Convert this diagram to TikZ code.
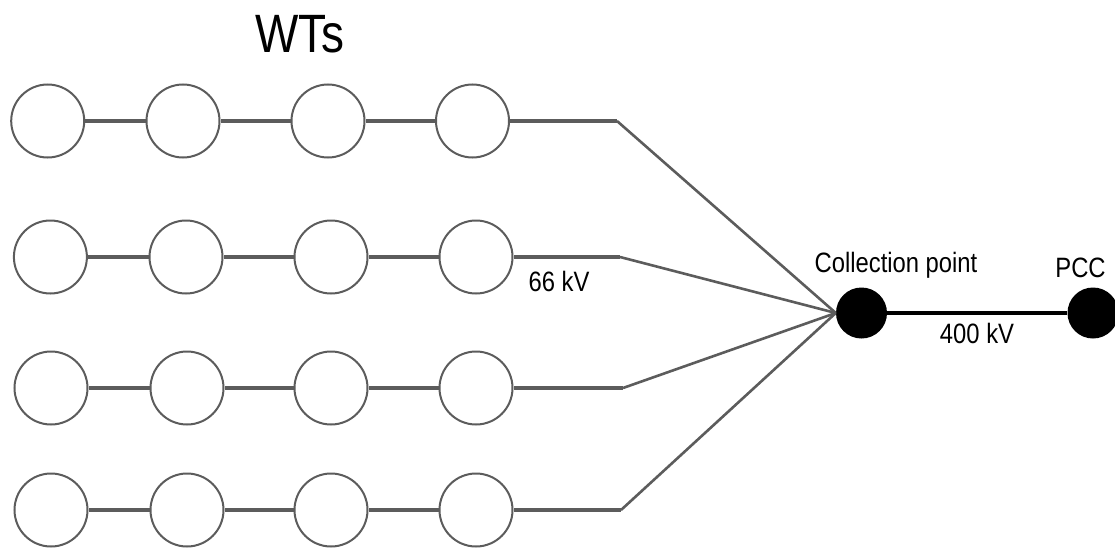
\documentclass[tikz,border=0pt]{standalone}
\usepackage{fontspec}
\setmainfont{Liberation Sans}[FakeStretch=0.85]
\definecolor{wire}{HTML}{5C5C5C}
\begin{document}
\begin{tikzpicture}[x=1pt,y=-1pt,
  wt/.style={circle,draw=wire,line width=2pt,minimum size=73pt,inner sep=0pt},
  hub/.style={circle,fill=black,minimum size=51pt,inner sep=0pt},
  chain/.style={draw=wire,line width=3.5pt},
  feeder/.style={draw=wire,line width=2.6pt,line join=round},
  label/.style={anchor=base,inner sep=0pt,font=\fontsize{28}{30}\selectfont}]
  \useasboundingbox (0,0) rectangle (1115,551);

  % wind turbine strings
  \foreach \r/\y/\xa/\xb/\xc/\xd in {1/121/47.7/183/328/472.5,
                                     2/257/50.4/186/331/476,
                                     3/388/51/187/331/476,
                                     4/510/51/187/331/476}{
    \node[wt] (t\r a) at (\xa,\y) {};
    \node[wt] (t\r b) at (\xb,\y) {};
    \node[wt] (t\r c) at (\xc,\y) {};
    \node[wt] (t\r d) at (\xd,\y) {};
    \draw[chain] (t\r a) -- (t\r b);
    \draw[chain] (t\r b) -- (t\r c);
    \draw[chain] (t\r c) -- (t\r d);
  }

  % collection point and PCC
  \node[hub] (cp) at (861.5,313) {};
  \node[hub] (pcc) at (1093,313) {};
  \draw[line width=3.5pt] (cp) -- (pcc);

  % bends of the 66 kV feeders
  \coordinate (k1) at (617,121);
  \coordinate (k2) at (620,257);
  \coordinate (k3) at (623,388);
  \coordinate (k4) at (621,510);
  \foreach \r in {1,2,3,4}{
    \draw[chain] (t\r d) -- (k\r);
    \draw[feeder] (k\r) -- (cp.west);
  }

  % labels
  \node[label,font=\fontsize{54}{56}\selectfont] (wts) at (300,52.3) {WTs};
  \node[label] (lcp) at (896,272.3) {Collection point};
  \node[label] (lpcc) at (1080.5,277.3) {PCC};
  \node[label] (l66) at (559,291) {66 kV};
  \node[label] (l400) at (977,343.3) {400 kV};
\end{tikzpicture}
\end{document}
